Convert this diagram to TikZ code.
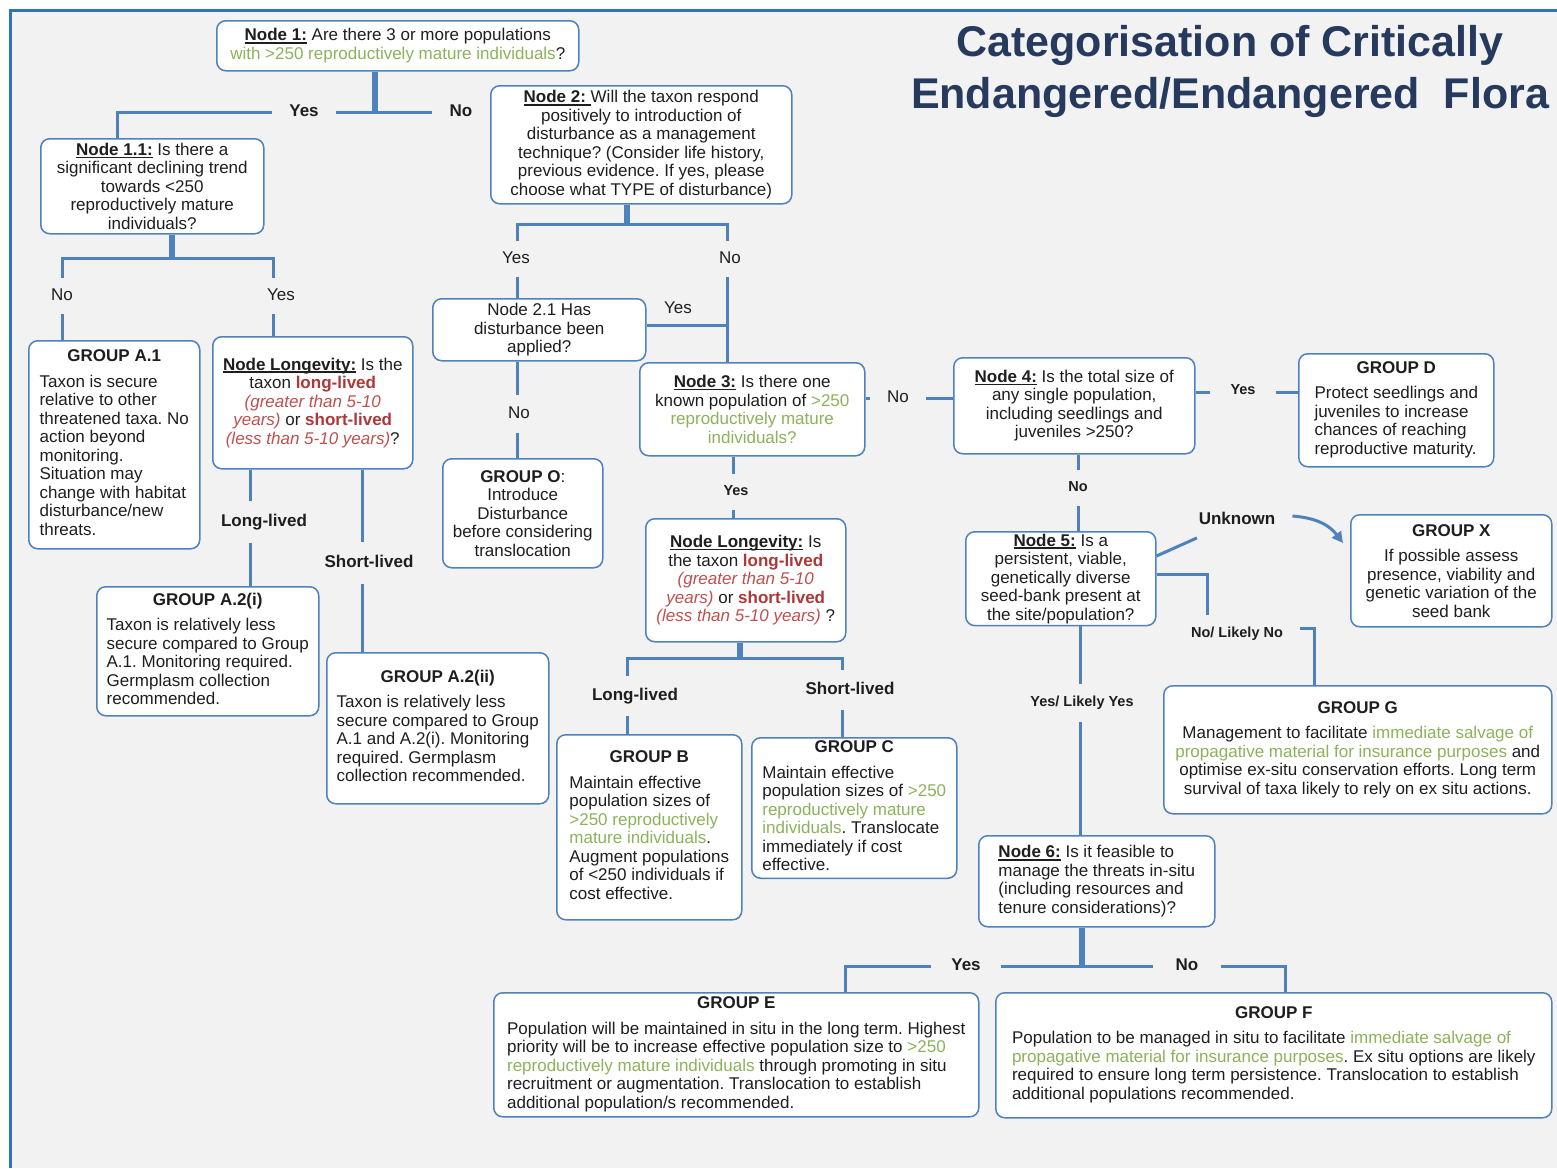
\documentclass[tikz,border=0pt]{standalone}
\usepackage{fontspec}
\setmainfont{Liberation Sans}
\usetikzlibrary{arrows.meta}

\definecolor{bggrey}{RGB}{242,242,242}
\definecolor{frameblue}{RGB}{46,117,182}
\definecolor{linkblue}{RGB}{79,129,189}
\definecolor{titleblue}{RGB}{38,58,94}
\definecolor{txtgreen}{RGB}{140,178,90}
\definecolor{txtred}{RGB}{175,55,55}
\definecolor{txtredi}{RGB}{192,80,77}
\definecolor{ink}{RGB}{30,30,30}

% highlighted phrases
\newcommand\hl[1]{\textcolor{txtgreen}{#1}}
\newcommand\lb[1]{\textcolor{txtred}{\textbf{#1}}}
\newcommand\li[1]{\textcolor{txtredi}{\textit{#1}}}
% bold, thickly underlined node heading
\newcommand\nodehead[1]{\setbox0\hbox{\textbf{#1}}\rlap{\rule[-2.8pt]{\wd0}{1.6pt}}\box0\relax}
% group box body: centred title over left-aligned lines
\newcommand\grouptab[2]{\begin{tabular}{@{}l@{}}\multicolumn{1}{@{}c@{}}{\textbf{#1}}\\[7pt]#2\end{tabular}}
\frenchspacing

\begin{document}
\begin{tikzpicture}[x=1pt,y=-1pt,
  box/.style={draw=linkblue, fill=white, line width=1.5pt, rounded corners=9pt,
    anchor=north west, inner xsep=4pt, inner ysep=2pt, text=ink,
    font=\fontsize{17pt}{18.5pt}\selectfont},
  link/.style={draw=linkblue, line width=3pt},
  stem/.style={draw=linkblue, line width=6pt},
  lab/.style={text=ink, text height=12pt, text depth=3.5pt, inner xsep=17pt,
    inner ysep=10pt, font=\fontsize{17pt}{18pt}\selectfont},
  labb/.style={lab, font=\fontsize{17pt}{18pt}\selectfont\bfseries},
  labs/.style={lab, text height=10.5pt, text depth=3pt, inner ysep=11pt,
    font=\fontsize{14.5pt}{16pt}\selectfont\bfseries},
]
\useasboundingbox (0,0) rectangle (1557,1168);

% page background and frame
\fill[white] (0,0) rectangle (1557,1168);
\fill[bggrey] (10,10) rectangle (1557,1168);
\draw[frameblue, line width=3pt] (10,1168) -- (10,10) -- (1557,10);

% title
\node[font=\fontsize{43pt}{52pt}\selectfont\bfseries, text=titleblue, align=center]
  (title) at (1230,71) {Categorisation of Critically\\Endangered/Endangered\ \ Flora};

% ---------- question nodes ----------
\node[box, minimum width=362pt, minimum height=50pt, align=center] (n1) at (216,20)
  {\nodehead{Node 1:} Are there 3 or more populations\\
   \hl{with >250 reproductively mature individuals}?};

\node[box, minimum width=223pt, minimum height=95pt, align=center] (n11) at (40,138)
  {\nodehead{Node 1.1:} Is there a\\ significant declining trend\\ towards <250\\
   reproductively mature\\ individuals?};

\node[box, minimum width=200pt, minimum height=132pt, align=center] (lonL) at (212,336)
  {\nodehead{Node Longevity:} Is the\\ taxon \lb{long-lived}\\ \li{(greater than 5-10}\\
   \li{years)} or \lb{short-lived}\\ \li{(less than 5-10 years)}?};

\node[box, minimum width=301pt, minimum height=118pt, align=center] (n2) at (490,85)
  {\nodehead{Node 2:\ }Will the taxon respond\\ positively to introduction of\\
   disturbance as a management\\ technique? (Consider life history,\\
   previous evidence. If yes, please\\ choose what TYPE of disturbance)};

\node[box, minimum width=213pt, minimum height=62pt, align=center] (n21) at (432,298)
  {Node 2.1 Has\\ disturbance been\\ applied?};

\node[box, minimum width=225pt, minimum height=93pt, align=center] (n3) at (639,362)
  {\nodehead{Node 3:} Is there one\\ known population of \hl{>250}\\
   \hl{reproductively mature}\\ \hl{individuals?}};

\node[box, minimum width=200pt, minimum height=123pt, align=center] (lonM) at (645,518)
  {\nodehead{Node Longevity:} Is\\ the taxon \lb{long-lived}\\ \li{(greater than 5-10}\\
   \li{years)} or \lb{short-lived}\\ \li{(less than 5-10 years)} ?};

\node[box, minimum width=241pt, minimum height=96pt, align=center] (n4) at (953,357)
  {\nodehead{Node 4:} Is the total size of\\ any single population,\\
   including seedlings and\\ juveniles >250?};

\node[box, minimum width=190pt, minimum height=92pt, align=center] (n5) at (965,531)
  {\nodehead{Node 5:} Is a\\ persistent, viable,\\ genetically diverse\\
   seed-bank present at\\ the site/population?};

\node[box, minimum width=236pt, minimum height=91pt, align=left] (n6) at (978,835)
  {\nodehead{Node 6:} Is it feasible to\\ manage the threats in-situ\\
   (including resources and\\ tenure considerations)?};

% ---------- outcome groups ----------
\node[box, minimum width=171pt, minimum height=208pt] (ga1) at (28,340)
  {\grouptab{GROUP A.1}{Taxon is secure\\ relative to other\\ threatened taxa. No\\
   action beyond\\ monitoring.\\ Situation may\\ change with habitat\\
   disturbance/new\\ threats.}};

\node[box, minimum width=222pt, minimum height=129pt] (ga2i) at (96,586)
  {\grouptab{GROUP A.2(i)}{Taxon is relatively less\\ secure compared to Group\\
   A.1. Monitoring required.\\ Germplasm collection\\ recommended.}};

\node[box, minimum width=222pt, minimum height=151pt] (ga2ii) at (326,652)
  {\grouptab{GROUP A.2(ii)}{Taxon is relatively less\\ secure compared to Group\\
   A.1 and A.2(i). Monitoring\\ required. Germplasm\\ collection recommended.}};

\node[box, minimum width=160pt, minimum height=109pt, align=center] (go) at (442,458)
  {\textbf{GROUP O}:\\ Introduce\\ Disturbance\\ before considering\\ translocation};

\node[box, minimum width=185pt, minimum height=185pt] (gb) at (556,734)
  {\grouptab{GROUP B}{Maintain effective\\ population sizes of\\
   \hl{>250 reproductively}\\ \hl{mature individuals}.\\ Augment populations\\
   of <250 individuals if\\ cost effective.}};

\node[box, minimum width=205pt, minimum height=137pt] (gc) at (751,737)
  {\grouptab{GROUP C}{Maintain effective\\ population sizes of \hl{>250}\\
   \hl{reproductively mature}\\ \hl{individuals}. Translocate\\ immediately if cost\\
   effective.}};

\node[box, minimum width=195pt, minimum height=113pt] (gd) at (1298,353)
  {\grouptab{GROUP D}{Protect seedlings and\\ juveniles to increase\\
   chances of reaching\\ reproductive maturity.}};

\node[box, minimum width=201pt, minimum height=112pt, align=center] (gx) at (1350,514)
  {\textbf{GROUP X}\\[7pt] If possible assess\\ presence, viability and\\
   genetic variation of the\\ seed bank};

\node[box, minimum width=388pt, minimum height=128pt, align=center] (gg) at (1163,685)
  {\textbf{GROUP G}\\[7pt] Management to facilitate \hl{immediate salvage of}\\
   \hl{propagative material for insurance purposes} and\\
   optimise ex-situ conservation efforts. Long term\\
   survival of taxa likely to rely on ex situ actions.};

\node[box, minimum width=485pt, minimum height=124pt] (ge) at (493,992)
  {\grouptab{GROUP E}{Population will be maintained in situ in the long term. Highest\\
   priority will be to increase effective population size to \hl{>250}\\
   \hl{reproductively mature individuals} through promoting in situ\\
   recruitment or augmentation. Translocation to establish\\
   additional population/s recommended.}};

\node[box, minimum width=556pt, minimum height=125pt] (gf) at (995,992)
  {\grouptab{GROUP F}{Population to be managed in situ to facilitate \hl{immediate salvage of}\\
   \hl{propagative material for insurance purposes}. Ex situ options are likely\\
   required to ensure long term persistence. Translocation to establish\\
   additional populations recommended.}};

% ---------- connector labels ----------
\node[labb] (yes1) at (304,112) {Yes};
\node[labb] (no1) at (461,112) {No};
\node[lab] (no11) at (62,296) {No};
\node[lab] (yes11) at (281,296) {Yes};
\node[labb, inner ysep=13pt] (llL) at (264,522) {Long-lived};
\node[labb, inner ysep=13pt] (slL) at (369,563) {Short-lived};
\node[lab] (yes2) at (516,259) {Yes};
\node[lab] (no2) at (730,259) {No};
\node[lab] (yes21) at (678,309) {Yes};
\node[lab, inner ysep=11pt] (no21) at (519,414) {No};
\node[lab] (no3) at (898,398) {No};
\node[labs] (yes3) at (736,492) {Yes};
\node[labb, inner ysep=12pt] (llM) at (635,696) {Long-lived};
\node[labb, inner ysep=12pt] (slM) at (850,690) {Short-lived};
\node[labs, inner xsep=20pt] (yes4) at (1243,391) {Yes};
\node[labs] (no4) at (1078,488) {No};
\node[labb] (unk) at (1237,520) {Unknown};
\node[labs, inner ysep=12pt] (nln) at (1237,634) {No/ Likely No};
\node[labs, inner ysep=12pt] (yly) at (1082,703) {Yes/ Likely Yes};
\node[labb, inner xsep=20pt] (yes6) at (966,966) {Yes};
\node[labb, inner xsep=22pt] (no6) at (1187,966) {No};

% ---------- connectors ----------
% Node 1
\coordinate (j1) at (375,112);
\coordinate (c1) at (117,112);
\draw[stem] (j1 |- n1.south) -- (j1);
\draw[link] (c1 |- n11.north) -- (c1) -- (yes1.west);
\draw[link] (yes1.east) -- (no1.west);

% Node 1.1
\coordinate (j11) at (172,258);
\coordinate (c11a) at (62,258);
\coordinate (c11b) at (273,258);
\draw[stem] (j11 |- n11.south) -- (j11);
\draw[link] (c11a |- no11.north) -- (c11a) -- (c11b) -- (c11b |- yes11.north);
\draw[link] (c11a |- no11.south) -- (c11a |- ga1.north);
\draw[link] (c11b |- yes11.south) -- (c11b |- lonL.north);

% Longevity (left)
\coordinate (cL1) at (250,0);
\coordinate (cL2) at (362,0);
\draw[link] (cL1 |- lonL.south) -- (cL1 |- llL.north);
\draw[link] (cL1 |- llL.south) -- (cL1 |- ga2i.north);
\draw[link] (cL2 |- lonL.south) -- (cL2 |- slL.north);
\draw[link] (cL2 |- slL.south) -- (cL2 |- ga2ii.north);

% Node 2 and Node 2.1
\coordinate (j2) at (627,224);
\coordinate (c2a) at (517,224);
\coordinate (c2b) at (727,224);
\coordinate (c21) at (727,325);
\draw[stem] (j2 |- n2.south) -- (j2);
\draw[link] (c2a |- yes2.north) -- (c2a) -- (c2b) -- (c2b |- no2.north);
\draw[link] (c2a |- yes2.south) -- (c2a |- n21.north);
\draw[link] (c2b |- no2.south) -- (c2b |- n3.north);
\draw[link] (c21 -| n21.east) -- (c21);
\draw[link] (c2a |- n21.south) -- (c2a |- no21.north);
\draw[link] (c2a |- no21.south) -- (c2a |- go.north);

% Node 3
\coordinate (c3) at (0,398);
\coordinate (c3d) at (733,0);
\draw[link] (c3 -| n3.east) -- (c3 -| no3.west);
\draw[link] (c3 -| no3.east) -- (c3 -| n4.west);
\draw[link] (c3d |- n3.south) -- (c3d |- yes3.north);
\draw[link] (c3d |- yes3.south) -- (c3d |- lonM.north);

% Longevity (middle)
\coordinate (jM) at (740,658);
\coordinate (cMa) at (627,658);
\coordinate (cMb) at (842,658);
\draw[stem] (jM |- lonM.south) -- (jM);
\draw[link] (cMa |- llM.north) -- (cMa) -- (cMb) -- (cMb |- slM.north);
\draw[link] (cMa |- llM.south) -- (cMa |- gb.north);
\draw[link] (cMb |- slM.south) -- (cMb |- gc.north);

% Node 4
\coordinate (c4) at (0,392);
\coordinate (c4d) at (1078,0);
\draw[link] (c4 -| n4.east) -- (c4 -| yes4.west);
\draw[link] (c4 -| yes4.east) -- (c4 -| gd.west);
\draw[link] (c4d |- n4.south) -- (c4d |- no4.north);
\draw[link] (c4d |- no4.south) -- (c4d |- n5.north);

% Node 5
\coordinate (u0) at (1156,556);
\coordinate (u1) at (1302,516);
\coordinate (xtip) at (1343,543);
\coordinate (c5a) at (1207,574);
\coordinate (c5b) at (1314,628);
\coordinate (c5d) at (1080,0);
\draw[link] (u0 -| n5.east) -- (unk);
\draw[link, -{Triangle[length=11pt,width=11pt]}] (u1 -| unk.east)
  .. controls (1318,518) and (1330,526) .. (xtip);
\draw[link] (c5a -| n5.east) -- (c5a) -- (c5a |- nln.north);
\draw[link] (c5b -| nln.east) -- (c5b) -- (c5b |- gg.north);
\draw[link] (c5d |- n5.south) -- (c5d |- yly.north);
\draw[link] (c5d |- yly.south) -- (c5d |- n6.north);

% Node 6
\coordinate (j6) at (1082,966);
\coordinate (c6a) at (845,966);
\coordinate (c6b) at (1285,966);
\draw[stem] (j6 |- n6.south) -- (j6);
\draw[link] (j6) -- (yes6.east);
\draw[link] (yes6.west) -- (c6a) -- (c6a |- ge.north);
\draw[link] (j6) -- (no6.west);
\draw[link] (no6.east) -- (c6b) -- (c6b |- gf.north);
\end{tikzpicture}
\end{document}
